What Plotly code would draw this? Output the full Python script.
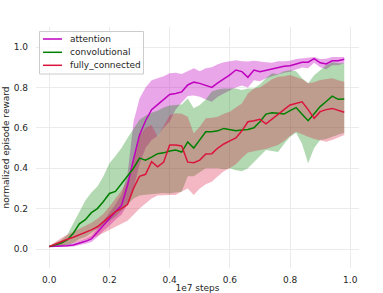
import plotly.graph_objects as go

steps = [round(i * 0.02, 2) for i in range(50)]

att_mean = [0.012, 0.013, 0.015, 0.016, 0.020, 0.028, 0.038, 0.050, 0.085, 0.120,
            0.150, 0.185, 0.215, 0.315, 0.445, 0.565, 0.635, 0.690, 0.715, 0.740,
            0.765, 0.770, 0.778, 0.812, 0.826, 0.820, 0.810, 0.800, 0.822, 0.840,
            0.862, 0.886, 0.878, 0.850, 0.886, 0.878, 0.884, 0.890, 0.898, 0.905,
            0.907, 0.915, 0.924, 0.925, 0.942, 0.922, 0.916, 0.932, 0.932, 0.939]
att_upper = [0.015, 0.018, 0.022, 0.025, 0.030, 0.040, 0.050, 0.065, 0.100, 0.140,
             0.180, 0.220, 0.270, 0.370, 0.630, 0.745, 0.800, 0.835, 0.845, 0.855,
             0.870, 0.872, 0.866, 0.880, 0.895, 0.880, 0.895, 0.900, 0.915, 0.925,
             0.930, 0.935, 0.930, 0.928, 0.932, 0.930, 0.925, 0.922, 0.930, 0.930,
             0.932, 0.940, 0.944, 0.945, 0.950, 0.940, 0.942, 0.950, 0.950, 0.950]
att_lower = [0.010, 0.010, 0.011, 0.012, 0.013, 0.018, 0.026, 0.035, 0.060, 0.090,
             0.115, 0.145, 0.170, 0.220, 0.300, 0.420, 0.500, 0.540, 0.560, 0.600,
             0.630, 0.690, 0.725, 0.758, 0.760, 0.754, 0.740, 0.729, 0.754, 0.770,
             0.787, 0.800, 0.810, 0.800, 0.835, 0.830, 0.845, 0.855, 0.862, 0.872,
             0.878, 0.888, 0.898, 0.895, 0.922, 0.900, 0.890, 0.910, 0.910, 0.920]

conv_mean = [0.012, 0.020, 0.030, 0.045, 0.078, 0.125, 0.145, 0.180, 0.200, 0.235,
             0.275, 0.285, 0.325, 0.360, 0.400, 0.450, 0.440, 0.455, 0.472, 0.476,
             0.485, 0.490, 0.480, 0.530, 0.500, 0.540, 0.580, 0.580, 0.585, 0.597,
             0.590, 0.586, 0.589, 0.592, 0.600, 0.630, 0.668, 0.675, 0.672, 0.668,
             0.685, 0.700, 0.667, 0.635, 0.670, 0.705, 0.730, 0.757, 0.741, 0.743]
conv_upper = [0.015, 0.030, 0.045, 0.070, 0.127, 0.190, 0.240, 0.280, 0.310, 0.360,
              0.424, 0.460, 0.500, 0.550, 0.595, 0.640, 0.660, 0.675, 0.685, 0.700,
              0.710, 0.712, 0.715, 0.745, 0.697, 0.713, 0.740, 0.780, 0.790, 0.795,
              0.795, 0.795, 0.787, 0.795, 0.795, 0.815, 0.845, 0.870, 0.865, 0.880,
              0.885, 0.880, 0.845, 0.820, 0.860, 0.886, 0.910, 0.925, 0.920, 0.920]
conv_lower = [0.010, 0.012, 0.015, 0.020, 0.030, 0.050, 0.060, 0.080, 0.100, 0.120,
              0.140, 0.160, 0.190, 0.220, 0.250, 0.265, 0.268, 0.270, 0.275, 0.277,
              0.275, 0.280, 0.284, 0.360, 0.360, 0.380, 0.400, 0.400, 0.400, 0.395,
              0.400, 0.390, 0.385, 0.400, 0.430, 0.460, 0.490, 0.485, 0.480, 0.520,
              0.556, 0.575, 0.520, 0.424, 0.500, 0.540, 0.545, 0.555, 0.565, 0.575]

fc_mean = [0.012, 0.025, 0.038, 0.048, 0.058, 0.070, 0.082, 0.095, 0.110, 0.135,
           0.160, 0.185, 0.200, 0.220, 0.300, 0.360, 0.370, 0.432, 0.407, 0.430,
           0.515, 0.515, 0.510, 0.430, 0.427, 0.440, 0.470, 0.472, 0.500, 0.520,
           0.535, 0.550, 0.585, 0.630, 0.635, 0.642, 0.620, 0.642, 0.665, 0.690,
           0.713, 0.720, 0.729, 0.690, 0.647, 0.680, 0.690, 0.696, 0.685, 0.677]
fc_upper = [0.015, 0.035, 0.055, 0.070, 0.085, 0.100, 0.115, 0.130, 0.150, 0.175,
            0.210, 0.250, 0.290, 0.340, 0.450, 0.560, 0.600, 0.614, 0.556, 0.610,
            0.662, 0.672, 0.670, 0.655, 0.573, 0.605, 0.647, 0.650, 0.655, 0.670,
            0.680, 0.700, 0.720, 0.770, 0.795, 0.800, 0.820, 0.840, 0.853, 0.855,
            0.861, 0.850, 0.840, 0.820, 0.825, 0.837, 0.840, 0.845, 0.835, 0.828]
fc_lower = [0.010, 0.012, 0.018, 0.025, 0.030, 0.038, 0.045, 0.053, 0.065, 0.078,
            0.095, 0.110, 0.125, 0.140, 0.170, 0.200, 0.225, 0.250, 0.265, 0.267,
            0.267, 0.267, 0.285, 0.300, 0.267, 0.300, 0.320, 0.333, 0.360, 0.385,
            0.400, 0.420, 0.450, 0.478, 0.485, 0.490, 0.495, 0.505, 0.515, 0.535,
            0.560, 0.580, 0.570, 0.556, 0.545, 0.537, 0.531, 0.540, 0.550, 0.564]

series = [
    ("attention", att_mean, att_upper, att_lower, "#bf00bf", "rgba(191,0,191,0.35)"),
    ("convolutional", conv_mean, conv_upper, conv_lower, "#008000", "rgba(0,128,0,0.3)"),
    ("fully_connected", fc_mean, fc_upper, fc_lower, "#dc143c", "rgba(220,20,60,0.3)"),
]

fig = go.Figure()
for name, m, up, lo, col, fcol in series:
    fig.add_trace(go.Scatter(
        x=steps + steps[::-1], y=up + lo[::-1], mode="lines",
        line=dict(width=0), fill="toself", fillcolor=fcol,
        hoverinfo="skip", showlegend=False))
for name, m, up, lo, col, fcol in series:
    fig.add_trace(go.Scatter(
        x=steps, y=m, mode="lines", name=name,
        line=dict(color=col, width=1.5), showlegend=False))

# plot area in page pixels: x 36..359, y 27..268 (page body margin removed below)
FIG_W, FIG_H = 383, 293
L, T, R, B = 36, 27, 359, 268
W, H = R - L, B - T
def px(x):
    return (x - L) / W
def py(y):
    return 1 - (y - T) / H

# compact matplotlib-like legend: box + line samples + labels
fig.add_shape(type="rect", xref="paper", yref="paper",
              x0=px(39.5), x1=px(143.5), y0=py(74), y1=py(31.5),
              line=dict(color="#cccccc", width=1), fillcolor="rgba(255,255,255,0.8)")
rows = [39, 52.3, 65.3]
for (name, m, up, lo, col, fcol), yy in zip(series, rows):
    fig.add_shape(type="line", xref="paper", yref="paper",
                  x0=px(43), x1=px(62), y0=py(yy), y1=py(yy),
                  line=dict(color=col, width=1.5))
    fig.add_annotation(xref="paper", yref="paper", x=px(68), y=py(yy),
                       text=name, showarrow=False, xanchor="left", yanchor="middle",
                       font=dict(size=9, color="#262626"))

grid = "#ebebeb"
fig.update_layout(
    width=FIG_W, height=FIG_H,
    margin=dict(l=L, r=FIG_W - R, t=T, b=FIG_H - B, autoexpand=False),
    paper_bgcolor="white", plot_bgcolor="white",
    font=dict(family="DejaVu Sans", size=9, color="#262626"),
    showlegend=False,
    xaxis=dict(range=[-0.044, 1.029], tickvals=[0, 0.2, 0.4, 0.6, 0.8, 1.0],
               tickformat=".1f", showgrid=True, gridcolor=grid, gridwidth=1,
               zeroline=False, showline=False, ticks="",
               ticklabelstandoff=5, automargin=True,
               title=dict(text="1e7 steps", standoff=3, font=dict(size=9))),
    yaxis=dict(range=[-0.094, 1.099], tickvals=[0, 0.2, 0.4, 0.6, 0.8, 1.0],
               tickformat=".1f", showgrid=True, gridcolor=grid, gridwidth=1,
               zeroline=False, showline=False, ticks="",
               ticklabelstandoff=7, automargin=True,
               title=dict(text="normalized episode reward", standoff=2, font=dict(size=9))),
)

fig.write_html("out.html", config={"displayModeBar": False},
               post_script="document.body.style.margin='0';")
